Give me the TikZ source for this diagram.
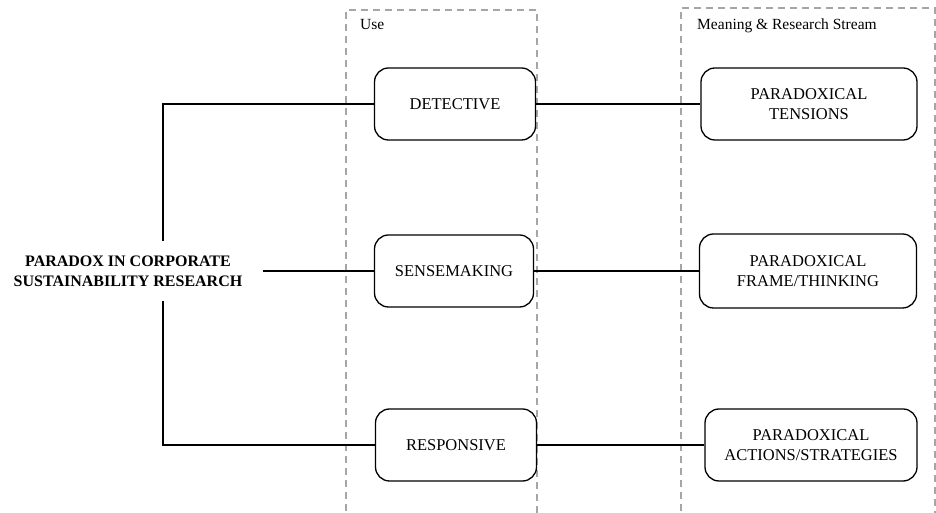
\documentclass[tikz,border=0pt]{standalone}
\usepackage{xcolor}
\usepackage{fontspec}
\setmainfont{Liberation Serif}
\usepackage{tikz}

\begin{document}
\begin{tikzpicture}[x=1pt, y=1pt,
    box/.style={draw, line width=1.3pt, rounded corners=14pt, align=center,
        font=\fontsize{16.5}{20}\selectfont, minimum height=72pt, inner sep=2pt},
    link/.style={line width=2.8pt},
    lane/.style={draw=gray!70, line width=1.3pt, dash pattern=on 7pt off 5pt},
    title/.style={anchor=north west, inner sep=0pt, font=\fontsize{15.5}{18}\selectfont}]
    \useasboundingbox (0, 0) rectangle (936, 513);

    \draw[lane] (346, -10) rectangle (537, 503);
    \draw[lane] (681, -10) rectangle (935, 505);
    \node[title] at (360, 494) (use) {Use};
    \node[title] at (697, 494) (stream) {Meaning \& Research Stream};

    \node[align=center, inner xsep=20pt, inner ysep=14pt,
        font=\bfseries\fontsize{16}{20}\selectfont] at (128, 242) (root)
        {PARADOX IN CORPORATE\\SUSTAINABILITY RESEARCH};
    \coordinate (bar) at (163, 0);

    \node[box, minimum width=161pt] at (455, 409) (detective) {DETECTIVE};
    \node[box, minimum width=159pt] at (454, 242) (sensemaking) {SENSEMAKING};
    \node[box, minimum width=161pt] at (456, 68) (responsive) {RESPONSIVE};

    \node[box, minimum width=216pt] at (809, 409) (tensions) {PARADOXICAL\\TENSIONS};
    \node[box, minimum width=217pt, minimum height=74pt] at (808, 242) (frame) {PARADOXICAL\\FRAME/THINKING};
    \node[box, minimum width=212pt] at (811, 68) (actions) {PARADOXICAL\\ACTIONS/STRATEGIES};

    \draw[link] (detective.west) -| (root.north -| bar);
    \draw[link] (responsive.west) -| (root.south -| bar);
    \draw[link] (root.east) -- (sensemaking.west);
    \draw[link] (detective.east) -- (tensions.west);
    \draw[link] (sensemaking.east) -- (frame.west);
    \draw[link] (responsive.east) -- (actions.west);
\end{tikzpicture}
\end{document}
